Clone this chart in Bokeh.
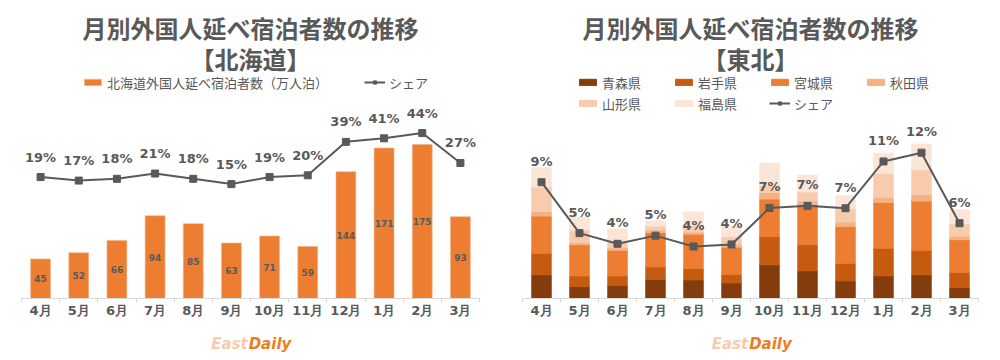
from bokeh.plotting import figure
from bokeh.models import (ColumnDataSource, Range1d, LinearAxis, FixedTicker, Label, LabelSet,
                          Legend, LegendItem)
from bokeh.core.properties import value
from bokeh.layouts import row, column
from bokeh.embed import file_html
from bokeh.resources import INLINE

# ---------------- data ----------------
months = ["4月", "5月", "6月", "7月", "8月", "9月", "10月", "11月", "12月", "1月", "2月", "3月"]

hokkaido_stays = [45, 52, 66, 94, 85, 63, 71, 59, 144, 171, 175, 93]          # 万人泊
hokkaido_share = [0.19, 0.17, 0.18, 0.21, 0.18, 0.15, 0.19, 0.20, 0.39, 0.41, 0.44, 0.27]

tohoku_prefs = ["青森県", "岩手県", "宮城県", "秋田県", "山形県", "福島県"]
aomori    = [47, 24, 26, 38, 37, 31, 67, 55, 35, 45, 47, 22]   # 千人泊 (estimated)
iwate     = [43, 21, 19, 25, 23, 17, 56, 52, 35, 55, 49, 30]
miyagi    = [74, 62, 51, 68, 68, 54, 75, 80, 73, 91, 98, 65]
akita     = [9, 4, 5, 5, 4, 6, 13, 7, 9, 10, 13, 7]
yamagata  = [49, 25, 12, 8, 14, 15, 14, 18, 27, 48, 49, 25]
fukushima = [38, 25, 25, 10, 26, 20, 44, 33, 25, 40, 51, 27]
tohoku_share = [0.0925, 0.052, 0.0435, 0.050, 0.0414, 0.043, 0.072, 0.0737, 0.0718, 0.109, 0.116, 0.0599]

title_main = "月別外国人延べ宿泊者数の推移"
title_left = "【北海道】"
title_right = "【東北】"
legend_left = "北海道外国人延べ宿泊者数（万人泊）"
share_label = "シェア"

# ---------------- style ----------------
CJK = "Noto Sans CJK JP"
LAT = "DejaVu Sans"
GREY = "#595959"
ORANGE = "#ED7D31"
pref_colors = ["#843C0C", "#C55A11", "#ED7D31", "#F4B183", "#F8CBAD", "#FBE5D6"]

N = len(months)
xpos = [i + 0.5 for i in range(N)]          # category slot centres on the numeric axis

PAGE_H = 359
FRAME_BOTTOM = 298      # page y of the category axis line
FOOT_TOP = 330          # page y where the footer strip starts
REF_FRAME_H = 176       # pixel height that holds the nominal value range


def strip(width, height):
    """A figure whose frame is the whole strip, in pixel-like data units (y up)."""
    p = figure(width=width, height=height, x_range=Range1d(0, width), y_range=Range1d(0, height),
               output_backend="svg", toolbar_location=None,
               x_axis_location=None, y_axis_location=None,
               min_border_left=0, min_border_right=0, min_border_top=0, min_border_bottom=0)
    p.outline_line_color = None
    p.grid.visible = False
    p.background_fill_color = "white"
    p.border_fill_color = "white"
    return p


def header(width, height, sub):
    h = strip(width, height)
    for txt, py in [(title_main, 27), (sub, 58)]:
        h.add_layout(Label(x=width / 2, y=height - py, text=txt, text_align="center",
                           text_baseline="middle", text_font=CJK, text_font_style="bold",
                           text_font_size="24px", text_color=GREY))
    return h


def footer(width):
    f = strip(width, PAGE_H - FOOT_TOP)
    yy = PAGE_H - 343
    f.add_layout(Label(x=247, y=yy, text="East", text_align="right",
                       text_baseline="middle", text_font="DejaVu Sans", text_font_style="bold italic",
                       text_font_size="15px", text_color="#F8CBAD"))
    f.add_layout(Label(x=248, y=yy, text="Daily", text_align="left",
                       text_baseline="middle", text_font="DejaVu Sans", text_font_style="bold italic",
                       text_font_size="15px", text_color="#EE7D22"))
    return f


def chart(width, frame_top, bl, br, y_end):
    height = FOOT_TOP - frame_top
    p = figure(width=width, height=height, x_range=Range1d(0, N), y_range=Range1d(0, y_end),
               output_backend="svg", toolbar_location=None,
               x_axis_location=None, y_axis_location=None,
               min_border_left=bl, min_border_right=br, min_border_top=0,
               min_border_bottom=FOOT_TOP - FRAME_BOTTOM)
    p.outline_line_color = None
    p.background_fill_color = "white"
    p.border_fill_color = "white"
    p.grid.visible = False
    axis = LinearAxis(ticker=FixedTicker(ticks=xpos, minor_ticks=list(range(N + 1))),
                      major_label_overrides={x: m for x, m in zip(xpos, months)},
                      axis_line_color="#D9D9D9", axis_line_width=1,
                      major_tick_line_color=None, major_tick_out=0, major_tick_in=0,
                      minor_tick_line_color="#D9D9D9", minor_tick_out=4, minor_tick_in=0,
                      major_label_text_font=LAT, major_label_text_font_size="13px",
                      major_label_text_font_style="bold", major_label_text_color=GREY,
                      major_label_standoff=0)
    p.add_layout(axis, "below")
    return p


def key_legend(items, loc, **kw):
    return Legend(items=items, orientation="horizontal", location=loc,
                  glyph_width=21, glyph_height=8, label_standoff=4, padding=0, margin=0,
                  border_line_color=None, background_fill_alpha=0,
                  inactive_fill_alpha=0, label_text_font=CJK, label_text_font_size="13px",
                  label_text_color=GREY, label_height=20, **kw)


# ---------------- left chart: 北海道 ----------------
LW = 500
L_TOP = 100
l_scale = (FRAME_BOTTOM - L_TOP) / REF_FRAME_H
pl = chart(LW, L_TOP, 21, 21, 200 * l_scale)
pl.extra_y_ranges = {"share": Range1d(-0.5, -0.5 + 1.0 * l_scale)}
src_l = ColumnDataSource(dict(
    x=xpos, month=months, val=hokkaido_stays, mid=[v / 2 for v in hokkaido_stays],
    vlabel=[str(v) for v in hokkaido_stays],
    share=hokkaido_share, slabel=["{:.0f}%".format(s * 100) for s in hokkaido_share]))

pl.vbar(x="x", top="val", width=0.52, source=src_l, fill_color=ORANGE,
        line_color="#F4B183", line_width=0.6)
pl.line(x="x", y="share", source=src_l, y_range_name="share", line_color=GREY, line_width=2)
pl.scatter(x="x", y="share", source=src_l, y_range_name="share", marker="square",
           size=7, fill_color=GREY, line_color=GREY)
pl.add_layout(LabelSet(x="x", y="mid", text="vlabel", source=src_l, text_align="center",
                       text_baseline="middle", text_font=value(LAT), text_font_style="bold",
                       text_font_size="9px", text_color=GREY))
pl.add_layout(LabelSet(x="x", y="share", y_range_name="share", text="slabel", source=src_l,
                       y_offset=20, text_align="center", text_baseline="middle",
                       text_font=value(LAT), text_font_style="bold", text_font_size="13px",
                       text_color=GREY))

# header with the legend keys (same series, hidden renderers: they only feed the legend)
hl = header(LW, L_TOP, title_left)
kb = hl.vbar(x="x", top="val", width=0.52, source=src_l, fill_color=ORANGE,
             line_color="#F4B183", visible=False)
kl = hl.line(x="x", y="share", source=src_l, line_color=GREY, line_width=2, visible=False)
ks = hl.scatter(x="x", y="share", source=src_l, marker="square", size=7,
                fill_color=GREY, line_color=GREY, visible=False)
leg_l = key_legend([LegendItem(label=legend_left, renderers=[kb]),
                    LegendItem(label=share_label, renderers=[kl, ks])],
                   (61, L_TOP - 92), spacing=36)
hl.add_layout(leg_l, "center")
fl = footer(LW)

# ---------------- right chart: 東北 ----------------
RW = 499
R_TOP = 115
r_scale = (FRAME_BOTTOM - R_TOP) / REF_FRAME_H
pr = chart(RW, R_TOP, 22, 21, 350 * r_scale)
pr.extra_y_ranges = {"share": Range1d(0, 0.14 * r_scale)}
src_r = ColumnDataSource(dict(
    x=xpos, month=months, 青森県=aomori, 岩手県=iwate, 宮城県=miyagi, 秋田県=akita, 山形県=yamagata,
    福島県=fukushima, share=tohoku_share,
    slabel=["{:.0f}%".format(s * 100) for s in tohoku_share]))
pr.vbar_stack(tohoku_prefs, x="x", width=0.51, source=src_r, color=pref_colors)
pr.line(x="x", y="share", source=src_r, y_range_name="share", line_color=GREY, line_width=2)
pr.scatter(x="x", y="share", source=src_r, y_range_name="share", marker="square",
           size=7, fill_color=GREY, line_color=GREY)
pr.add_layout(LabelSet(x="x", y="share", y_range_name="share", text="slabel", source=src_r,
                       y_offset=21, text_align="center", text_baseline="middle",
                       text_font=value(LAT), text_font_style="bold", text_font_size="13px",
                       text_color=GREY))

hr = header(RW, R_TOP, title_right)
keys = hr.vbar_stack(tohoku_prefs, x="x", width=0.51, source=src_r, color=pref_colors, visible=False)
rl = hr.line(x="x", y="share", source=src_r, line_color=GREY, line_width=2, visible=False)
rs = hr.scatter(x="x", y="share", source=src_r, marker="square", size=7,
                fill_color=GREY, line_color=GREY, visible=False)
items_r = [LegendItem(label=n, renderers=[r]) for n, r in zip(tohoku_prefs, keys)]
items_r.append(LegendItem(label=share_label, renderers=[rl, rs]))
leg_r = key_legend(items_r, (55, R_TOP - 113), ncols=4, spacing=1, label_width=70)
hr.add_layout(leg_r, "center")
fr = footer(RW)

layout = row(column(hl, pl, fl), column(hr, pr, fr))
open("out.html", "w").write(file_html(layout, INLINE))
